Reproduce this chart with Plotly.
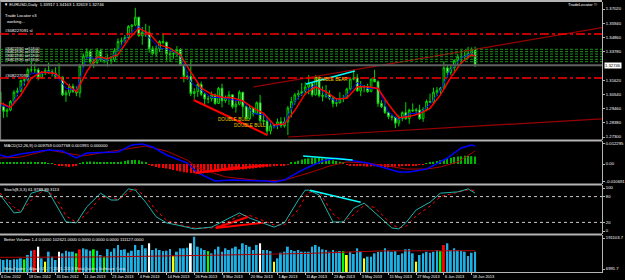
import plotly.graph_objects as go

# ---------------- DATA ----------------
date_idx = [0, 8, 16, 24, 32, 40, 48, 56, 64, 72, 80, 88, 96, 104, 112, 120, 128, 136]
date_labels = ["6 Dec 2012", "18 Dec 2012", "31 Dec 2012", "11 Jan 2013", "23 Jan 2013", "4 Feb 2013",
               "14 Feb 2013", "26 Feb 2013", "8 Mar 2013", "20 Mar 2013", "1 Apr 2013", "11 Apr 2013",
               "23 Apr 2013", "3 May 2013", "15 May 2013", "27 May 2013", "6 Jun 2013", "18 Jun 2013"]

first_open = 1.3070
closes = [1.2960,1.2925,1.2935,1.3000,1.3070,1.3080,1.3160,1.3165,1.3240,1.3240,1.3240,1.3180,1.3220,1.3235,1.3225,1.3215,1.3190,
          1.3185,1.3050,1.3065,1.3115,1.3075,1.3065,1.3270,1.3345,1.3380,1.3300,1.3295,1.3385,1.3315,1.3310,1.3315,1.3315,1.3385,1.3455,1.3460,1.3485,1.3570,1.3580,
          1.3640,1.3500,1.3525,1.3525,1.3400,1.3365,1.3400,1.3455,1.3450,1.3360,1.3360,1.3365,1.3395,1.3280,1.3190,1.3190,1.3060,1.3075,1.3130,1.3055,
          1.3020,1.3020,1.3050,1.2985,1.3100,1.3005,1.3030,1.3050,1.2960,1.2980,1.3070,1.2960,1.2870,1.2950,1.2905,1.2990,1.2855,1.2850,1.2775,1.2815,1.2820,
          1.2845,1.2815,1.2845,1.2950,1.3000,1.3050,1.3060,1.3075,1.3110,1.3135,1.3050,1.3185,1.3045,1.3040,1.3050,1.3025,1.2985,1.2990,1.3020,1.3030,1.3095,1.3170,
          1.3180,1.3080,1.3110,1.3110,1.3075,1.3170,1.3150,1.2985,1.2960,1.2915,1.2885,1.2880,1.2835,1.2870,1.2915,1.2870,1.2935,1.2930,1.2935,1.2870,1.2940,1.3000,1.2995,
          1.3070,1.3085,1.3100,1.3255,1.3220,1.3255,1.3310,1.3340,1.3340,1.3345,1.3365,1.3390,1.32746]
highs = [1.3075,1.2990,1.2950,1.3010,1.3085,1.3105,1.3165,1.3175,1.3255,1.3308,1.3290,1.3255,1.3230,1.3255,1.3295,1.3245,1.3260,
         1.3290,1.3190,1.3085,1.3135,1.3135,1.3115,1.3286,1.3365,1.3403,1.3395,1.3325,1.3405,1.3400,1.3335,1.3355,1.3345,1.3405,1.3480,1.3485,1.3505,1.3580,1.3585,
         1.3711,1.3640,1.3565,1.3590,1.3575,1.3420,1.3425,1.3465,1.3520,1.3455,1.3390,1.3375,1.3420,1.3405,1.3285,1.3225,1.3320,1.3100,1.3150,1.3150,
         1.3070,1.3045,1.3075,1.3060,1.3110,1.3135,1.3045,1.3080,1.3055,1.3010,1.3085,1.3070,1.2975,1.2965,1.2955,1.3000,1.3050,1.2905,1.2880,1.2840,1.2830,
         1.2870,1.2880,1.2880,1.2965,1.3035,1.3065,1.3085,1.3140,1.3145,1.3200,1.3140,1.3200,1.3190,1.3115,1.3125,1.3085,1.3040,1.3025,1.3070,1.3050,1.3105,1.3180,
         1.3243,1.3210,1.3155,1.3125,1.3135,1.3175,1.3240,1.3160,1.3010,1.3010,1.2925,1.2905,1.2880,1.2895,1.2925,1.2995,1.2945,1.2985,1.2950,1.2975,1.2955,1.3015,1.3060,
         1.3105,1.3110,1.3110,1.3305,1.3280,1.3275,1.3320,1.3360,1.3390,1.3390,1.3415,1.3410,1.34163]
lows = [1.2955,1.2875,1.2880,1.2925,1.2990,1.3040,1.3070,1.3120,1.3150,1.3220,1.3215,1.3160,1.3180,1.3200,1.3210,1.3190,1.3170,
        1.3175,1.3040,1.2997,1.3040,1.3065,1.3040,1.3030,1.3250,1.3330,1.3285,1.3255,1.3285,1.3300,1.3290,1.3265,1.3285,1.3300,1.3380,1.3425,1.3445,1.3475,1.3520,
        1.3570,1.3490,1.3430,1.3490,1.3370,1.3350,1.3345,1.3375,1.3435,1.3310,1.3300,1.3325,1.3345,1.3270,1.3145,1.3165,1.3040,1.3020,1.3035,1.3040,
        1.2965,1.2985,1.3000,1.2975,1.2980,1.2955,1.2990,1.2975,1.2945,1.2915,1.2970,1.2880,1.2860,1.2860,1.2885,1.2905,1.2835,1.2820,1.2750,1.2750,1.2795,
        1.2790,1.2800,1.2800,1.2745,1.2880,1.2975,1.3015,1.3040,1.3055,1.3055,1.3035,1.3045,1.3030,1.3000,1.3025,1.3010,1.2955,1.2960,1.2985,1.2995,1.3030,1.3080,
        1.3160,1.3075,1.3040,1.3070,1.3065,1.3070,1.3145,1.2960,1.2950,1.2905,1.2865,1.2855,1.2797,1.2810,1.2850,1.2860,1.2830,1.2920,1.2910,1.2860,1.2845,1.2925,1.2990,
        1.2990,1.3040,1.3050,1.3095,1.3180,1.3200,1.3225,1.3270,1.3290,1.3315,1.3325,1.3350,1.32619]

ma_idx = [0,3,6,9,12,14,16,19,22,25,28,31,34,37,40,43,46,49,52,55,58,61,64,67,70,73,76,79,82,85,88,91,94,97,100,103,106,109,112,115,118,121,124,127,130,133,136,137]
ma_slow = [1.2990,1.2955,1.3049,1.3177,1.3224,1.3217,1.3213,1.3138,1.3074,1.3227,1.3341,1.3324,1.3356,1.3471,1.3555,1.3518,1.3429,1.3405,1.3352,1.3223,1.3102,1.3055,1.3032,1.3029,
           1.3004,1.2951,1.2910,1.2823,1.2828,1.2932,1.3059,1.3111,1.3074,1.3018,1.3024,1.3111,1.3111,1.3098,1.2979,1.2877,1.2885,1.2908,1.2948,1.3050,1.3183,1.3293,1.3356,1.3343]
ma_fast = [1.2975,1.2953,1.3103,1.3215,1.3213,1.3228,1.3202,1.3100,1.3085,1.3332,1.3327,1.3313,1.3385,1.3505,1.3573,1.3483,1.3407,1.3390,1.3347,1.3147,1.3087,1.3030,1.3030,1.3013,
           1.3003,1.2908,1.2898,1.2803,1.2835,1.3000,1.3082,1.3123,1.3045,1.3000,1.3048,1.3143,1.3098,1.3102,1.2920,1.2862,1.2907,1.2912,1.2978,1.3085,1.3243,1.3330,1.3367,1.3343]

bid_price = 1.32746
sl_levels = [1.3512, 1.3178]
sell_levels = [1.3396, 1.3378, 1.3360, 1.3340, 1.3320, 1.3302]
price_ticks = [1.37020, 1.35940, 1.34860, 1.33780, 1.31620, 1.30540, 1.29460, 1.28380, 1.27300]

upper_trend_x = [73.0, 174.0]; upper_trend_y = [1.3110, 1.3562]
lower_trend_x = [83.1, 174.0]; lower_trend_y = [1.2730, 1.2868]
cyan_price_x = [88.2, 102.3]; cyan_price_y = [1.3133, 1.3231]
red_price_x = [55.8, 77.1]; red_price_y = [1.3011, 1.2745]

macd_main_idx = [0,2,6,14,18,22,25,34,38,41,44,48,54,57,62,67,77,79,82,86,89,93,97,102,106,110,115,118,123,129,133,136,137]
macd_main = [0.0048,0.0037,0.0053,0.0075,0.0069,0.0032,0.0059,0.0064,0.0102,0.0107,0.0091,0.0048,0.0005,-0.0048,-0.0091,-0.0086,-0.0091,
             -0.0096,-0.0086,-0.0043,-0.0016,0.0016,0.0032,0.0016,0.0005,-0.0016,-0.0043,-0.0043,-0.0027,0.0032,0.0086,0.0102,0.0096]
macd_sig_idx = [0,6,14,19,24,29,38,42,48,54,57,65,76,82,89,95,100,106,112,117,123,127,132,137]
macd_sig = [0.0032,0.0037,0.0075,0.0059,0.0043,0.0059,0.0086,0.0096,0.0069,0.0021,-0.0021,-0.0069,-0.0091,-0.0086,-0.0048,-0.0011,
            0.0011,0.0005,-0.0011,-0.0027,-0.0027,-0.0016,0.0011,0.0069]
macd_hist = [0.0008,0.0010,0.0008,0.0006,0.0008,0.0010,0.0010,0.0008,0.0010,0.0012,0.0010,0.0008,0.0008,0.0006,0.0005,0.0004,
             -0.0004,-0.0008,-0.0010,-0.0014,-0.0016,-0.0014,-0.0010,
             0.0004,0.0008,0.0012,0.0014,0.0012,0.0010,0.0010,0.0008,0.0006,0.0006,0.0008,0.0010,0.0012,0.0016,0.0020,0.0022,0.0022,0.0020,0.0014,0.0008,
             -0.0004,-0.0010,-0.0016,-0.0020,-0.0022,-0.0024,-0.0028,-0.0032,-0.0036,-0.0040,-0.0044,-0.0046,-0.0048,-0.0050,-0.0048,-0.0046,-0.0046,
             -0.0044,-0.0042,-0.0040,-0.0040,-0.0038,-0.0036,-0.0034,-0.0034,-0.0032,-0.0030,-0.0030,-0.0028,-0.0026,-0.0024,-0.0022,-0.0020,-0.0018,
             -0.0016,-0.0014,-0.0012,-0.0010,-0.0008,-0.0006,-0.0003,
             0.0006,0.0012,0.0018,0.0024,0.0028,0.0030,0.0032,0.0032,0.0032,0.0030,0.0028,0.0024,0.0020,0.0016,0.0012,0.0008,
             -0.0004,-0.0006,-0.0008,-0.0010,-0.0010,-0.0012,-0.0014,-0.0012,-0.0012,-0.0014,-0.0016,-0.0018,-0.0018,-0.0016,-0.0014,-0.0014,
             -0.0012,-0.0010,-0.0008,-0.0008,-0.0006,-0.0004,-0.0002,
             0.0004,0.0008,0.0012,0.0016,0.0020,0.0026,0.0030,0.0034,0.0038,0.0040,0.0042,0.0044,0.0044,0.0042,0.0040]
macd_red_lines = [([56.4, 77.3], [-0.0048, -0.0005]), ([56.4, 68.7], [-0.0048, -0.0016])]
macd_cyan_x = [87.4, 101.7]; macd_cyan_y = [0.0043, 0.0021]

stoch_idx = [0,4,6,9,12,14,17,19,22,25,29,32,34,37,39,42,45,48,51,54,56,61,65,69,72,76,79,82,86,88,89,92,96,99,102,105,108,113,115,117,120,124,127,132,135,137]
stoch_main = [84,42,44,88,95,91,49,21,19,56,88,72,72,98,95,67,33,19,14,9,5,9,26,42,30,19,9,19,72,95,95,84,21,21,53,65,44,7,5,19,49,67,88,91,98,88]
stoch_sig = [88,55,45,72,92,93,65,35,20,40,78,80,72,90,98,80,48,25,16,11,7,7,18,36,36,24,14,14,50,80,90,92,40,21,38,60,55,15,7,10,35,58,80,90,96,94]
stoch_cyan_x = [89.4, 104.0]; stoch_cyan_y = [95, 67]
stoch_red_lines = [([62.2, 71.6], [7, 33]), ([62.2, 75.9], [7, 19])]

volume = [70000,66700,70000,66700,70000,70000,75000,70000,91600,113000,116500,133000,75000,58300,108000,83200,66700,108000,100000,113000,
          108000,108000,100000,119800,124800,119800,113000,119800,113000,91600,83200,121000,108000,124800,141300,116500,119800,103000,113000,141300,
          116500,141300,124800,149800,116500,124800,116500,111000,113000,121000,86600,108000,124800,124800,128000,149800,182600,133000,124800,116500,
          111000,100000,119800,133000,108000,124800,116500,124800,133000,119800,149800,141300,133000,116500,141300,149800,116500,116500,111000,58300,
          75000,103000,108000,133000,116500,111000,116500,108000,108000,108000,133000,141300,133000,119800,116500,108000,116500,108000,111000,111000,
          91600,108000,96600,124800,111000,75000,83200,83200,100000,108000,108000,124800,113000,108000,111000,91600,100000,119800,121000,100000,
          58300,91600,100000,108000,103000,108000,116500,111000,141300,149800,116500,124800,116500,113000,108000,86600,103000,108000]
vol_green_idx = [7, 22, 27, 30, 60, 99, 127]
vol_red_idx = [10, 23, 128]
vol_white_idx = [11, 17, 43, 55, 75]
vol_yellow_idx = [13, 50, 79, 100, 105, 120]
vol_avg_idx = [0, 30, 60, 90, 110, 137]
vol_avg = [80000, 82000, 90000, 100000, 112000, 113000]

# ---------------- STYLE ----------------
FONT = "Liberation Sans"
FS = 4.2
GRID = "#b4b4b4"
CANDLE = "#00d400"

def py(Y):  # pixel row -> paper fraction (plot area rows 2..272)
    return (272 - Y) / 270.0

n = len(closes)
idx = list(range(n))
opens = [first_open] + closes[:-1]

fig = go.Figure()

# price pane
fig.add_trace(go.Candlestick(x=idx, open=opens, high=highs, low=lows, close=closes,
                             increasing=dict(line=dict(color=CANDLE, width=1), fillcolor="black"),
                             decreasing=dict(line=dict(color=CANDLE, width=1), fillcolor="white"),
                             xaxis="x", yaxis="y", hoverinfo="skip"))
fig.add_trace(go.Scatter(x=ma_idx, y=ma_fast, mode="lines", line=dict(color="#0000ff", width=1), yaxis="y"))
fig.add_trace(go.Scatter(x=ma_idx, y=ma_slow, mode="lines", line=dict(color="#ff0000", width=1.5), yaxis="y"))
fig.add_trace(go.Scatter(x=upper_trend_x, y=upper_trend_y, mode="lines", line=dict(color="#9a0000", width=1.2), yaxis="y"))
fig.add_trace(go.Scatter(x=lower_trend_x, y=lower_trend_y, mode="lines", line=dict(color="#9a0000", width=1.2), yaxis="y"))
fig.add_trace(go.Scatter(x=cyan_price_x, y=cyan_price_y, mode="lines", line=dict(color="#00ffff", width=1.5), yaxis="y"))
fig.add_trace(go.Scatter(x=red_price_x, y=red_price_y, mode="lines", line=dict(color="#ff0000", width=2), yaxis="y"))

# MACD pane
fig.add_trace(go.Bar(x=idx, y=macd_hist, width=0.4,
                     marker=dict(color=["#00b400" if v >= 0 else "#ff0000" for v in macd_hist], line=dict(width=0)),
                     yaxis="y2"))
fig.add_trace(go.Scatter(x=macd_sig_idx, y=macd_sig, mode="lines", line=dict(color="#b00000", width=1), yaxis="y2"))
fig.add_trace(go.Scatter(x=macd_main_idx, y=macd_main, mode="lines", line=dict(color="#0000ff", width=1.5), yaxis="y2"))
for lx, ly in macd_red_lines:
    fig.add_trace(go.Scatter(x=lx, y=ly, mode="lines", line=dict(color="#ff0000", width=2), yaxis="y2"))
fig.add_trace(go.Scatter(x=macd_cyan_x, y=macd_cyan_y, mode="lines", line=dict(color="#00ffff", width=1.5), yaxis="y2"))

# Stochastic pane
fig.add_trace(go.Scatter(x=stoch_idx, y=stoch_sig, mode="lines", line=dict(color="#ff0000", width=1, dash="dot"), yaxis="y3"))
fig.add_trace(go.Scatter(x=stoch_idx, y=stoch_main, mode="lines", line=dict(color="#20b2aa", width=1), yaxis="y3"))
fig.add_trace(go.Scatter(x=stoch_cyan_x, y=stoch_cyan_y, mode="lines", line=dict(color="#00ffff", width=1.5), yaxis="y3"))
for lx, ly in stoch_red_lines:
    fig.add_trace(go.Scatter(x=lx, y=ly, mode="lines", line=dict(color="#ff0000", width=2), yaxis="y3"))

# Volume pane
vcol = []
for i in idx:
    if i in vol_green_idx:
        vcol.append("#00ff00")
    elif i in vol_red_idx:
        vcol.append("#ff0000")
    elif i in vol_white_idx:
        vcol.append("#ffffff")
    elif i in vol_yellow_idx:
        vcol.append("#ffff00")
    else:
        vcol.append("#1cb0e4")
fig.add_trace(go.Bar(x=idx, y=volume, width=0.55, marker=dict(color=vcol, line=dict(width=0)), yaxis="y4"))
fig.add_trace(go.Scatter(x=vol_avg_idx, y=vol_avg, mode="lines", line=dict(color="#b00000", width=1), yaxis="y4"))

# ---------------- LAYOUT ----------------
tickfont = dict(family=FONT, size=FS, color="#ffffff")
yax_common = dict(side="right", anchor="x", showgrid=False, zeroline=False, showline=True,
                  linecolor=GRID, linewidth=1, ticks="outside", ticklen=2, tickcolor=GRID,
                  tickfont=tickfont, fixedrange=True)

fig.update_layout(
    width=625, height=280, margin=dict(l=0, r=19, t=2, b=8),
    paper_bgcolor="black", plot_bgcolor="black", showlegend=False, barmode="overlay",
    font=dict(family=FONT, size=FS, color="#ffffff"),
    xaxis=dict(domain=[0, 1], range=[-0.03, 173.6], anchor="y4", showgrid=False, zeroline=False,
               rangeslider=dict(visible=False), tickmode="array", tickvals=date_idx, ticktext=date_labels,
               tickangle=0, ticks="outside", ticklen=2, tickcolor=GRID,
               tickfont=dict(family=FONT, size=3.9, color="#ffffff"),
               ticklabelposition="outside right", showline=True, linecolor=GRID, linewidth=1),
    yaxis=dict(domain=[py(140), 1.0], range=[1.27073, 1.37552], tickmode="array", tickvals=price_ticks,
               ticktext=["%.5f" % v for v in price_ticks], **yax_common),
    yaxis2=dict(domain=[py(184), py(141)], range=[-0.010691, 0.012295], tickmode="array",
                tickvals=[0.0107, 0.0, -0.0091], ticktext=["0.012295", "0.00", "-0.010691"], **yax_common),
    yaxis3=dict(domain=[py(234), py(185)], range=[-6.98, 106.98], tickmode="array",
                tickvals=[100, 80, 20, 0], ticktext=["100", "80", "20", "0"], **yax_common),
    yaxis4=dict(domain=[0, py(235)], range=[6991.7, 191103.7], tickmode="array",
                tickvals=[176200, 21900], ticktext=["191103.7", "6991.7"], **yax_common),
)

shapes = []
# pane separators / frame
for Y in [1, 140.5, 184.5, 234.5]:
    shapes.append(dict(type="line", xref="paper", yref="paper", x0=0, x1=1, y0=py(Y), y1=py(Y),
                       line=dict(color=GRID, width=2)))
shapes.append(dict(type="line", xref="paper", yref="paper", x0=0.001, x1=0.001, y0=py(140), y1=py(1),
                   line=dict(color="#808080", width=1)))
# order lines
shapes.append(dict(type="line", xref="paper", yref="y", x0=0, x1=1, y0=bid_price, y1=bid_price,
                   line=dict(color="#606060", width=2)))
for lv in sl_levels:
    shapes.append(dict(type="line", xref="paper", yref="y", x0=0, x1=1, y0=lv, y1=lv,
                       line=dict(color="#ff0000", width=1.5, dash="dashdot")))
for lv in sell_levels:
    shapes.append(dict(type="line", xref="paper", yref="y", x0=0, x1=1, y0=lv, y1=lv,
                       line=dict(color="#1c901c", width=1, dash="3px,2px")))
# stochastic levels
for lv in [80, 20]:
    shapes.append(dict(type="line", xref="paper", yref="y3", x0=0, x1=1, y0=lv, y1=lv,
                       line=dict(color="#c8c8c8", width=1, dash="dot")))
fig.update_layout(shapes=shapes)

ann = []
def txt(x, Y, s, color="#ffffff", size=FS):
    ann.append(dict(xref="paper", yref="paper", x=x, y=py(Y), text=s, showarrow=False,
                    xanchor="left", yanchor="middle", font=dict(family=FONT, size=size, color=color)))

txt(0.003, 4.5, "▼ EURUSD,Daily  1.33917 1.34163 1.32619 1.32746")
txt(0.005, 15, "Trade Locator v3")
txt(0.008, 21, "working...")
txt(0.005, 31, "#308227091 sl")
for Y in [48.8, 52.4, 56.0, 59.6]:
    txt(0.005, Y, "#308227091 sell 18.00", size=3.4)
txt(0.005, 76, "#308227091")
txt(0.94, 5, "TradeLocator ©")
txt(0.004, 145.5, "MACD(12,26,9) 0.009759 0.007768 0.001991 0.000000")
txt(0.004, 189, "Stoch(8,3,3) 61.9789 89.3113")
txt(0.004, 239, "Better Volume 1.4 0.0000 102621.0000 0.0000 0.0000 0.0000 111127.0000")
txt(0.004, 268, "MetaTrader - Alpari UK, © 2001-2013 MetaQuotes Software Corp.", color="#e0e0e0")

# current price box
ann.append(dict(xref="paper", yref="y", x=1.003, y=bid_price, text="1.32746", showarrow=False,
                xanchor="left", yanchor="middle", bgcolor="#ffffff", borderpad=0,
                font=dict(family=FONT, size=FS, color="#000000")))
# pattern labels
for xi, yv, s in [(90.2, 1.3170, "DOUBLE BEAR"), (62.4, 1.2862, "DOUBLE BULL"), (67.0, 1.2818, "DOUBLE BULL")]:
    ann.append(dict(xref="x", yref="y", x=xi, y=yv, text=s, showarrow=False, xanchor="left", yanchor="middle",
                    font=dict(family=FONT, size=4.6, color="#f0c800")))
fig.update_layout(annotations=ann)

fig.write_html("out.html")
